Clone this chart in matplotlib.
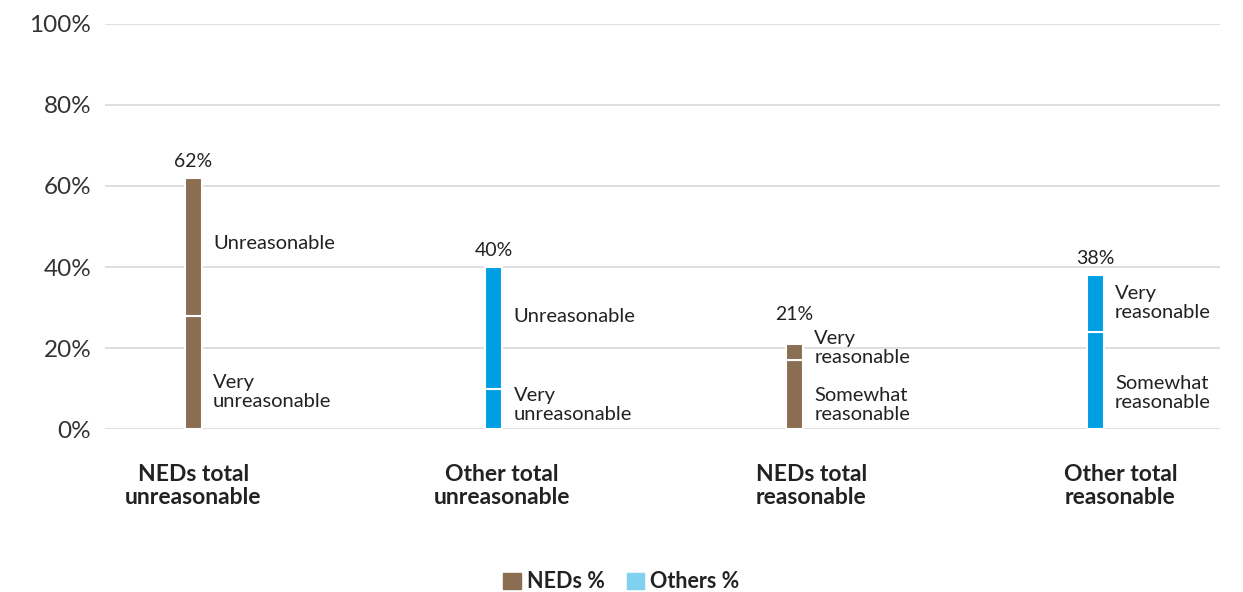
import matplotlib

matplotlib.use("Agg")
import matplotlib.pyplot as plt
from matplotlib.patches import Patch

plt.rcParams["font.family"] = ["Lato", "DejaVu Sans"]

# Stacked bars: lower segment + upper segment, in percent
categories = [
    "NEDs total\nunreasonable",
    "Other total\nunreasonable",
    "NEDs total\nreasonable",
    "Other total\nreasonable",
]
lower_values = [28, 10, 17, 24]
upper_values = [34, 30, 4, 14]
lower_labels = ["Very\nunreasonable", "Very\nunreasonable", "Somewhat\nreasonable", "Somewhat\nreasonable"]
upper_labels = ["Unreasonable", "Unreasonable", "Very\nreasonable", "Very\nreasonable"]
series = ["NEDs", "Others", "NEDs", "Others"]
y_ticks = [0, 20, 40, 60, 80, 100]

BROWN = "#8b6d52"
BLUE = "#009fe3"
LEGEND_BLUE = "#80d0f0"
GRID = "#d9d9d9"
TEXT = "#222222"

colors = {"NEDs": BROWN, "Others": BLUE}

fig = plt.figure(figsize=(12.43, 5.92), dpi=100)
ax = fig.add_axes([0.0845, 0.2753, 0.897, 0.6842])

x = list(range(len(categories)))
bar_w = 0.056
bar_colors = [colors[s] for s in series]
totals = [lo + up for lo, up in zip(lower_values, upper_values)]

ax.bar(x, lower_values, width=bar_w, color=bar_colors, edgecolor="white", linewidth=1.5, zorder=3)
ax.bar(x, upper_values, bottom=lower_values, width=bar_w, color=bar_colors,
       edgecolor="white", linewidth=1.5, zorder=3)

# label placement within each segment (fraction of segment height)
lower_pos = [0.325, 0.59, 0.35, 0.37]
upper_pos = [0.52, 0.59, 0.75, 0.51]
total_offset = [6, 6, 15, 6]
for i in x:
    lo, up = lower_values[i], upper_values[i]
    ax.text(i + 0.066, lo * lower_pos[i], lower_labels[i], ha="left", va="center",
            fontsize=14.5, color=TEXT, linespacing=1.1)
    ax.text(i + 0.066, lo + up * upper_pos[i], upper_labels[i],
            ha="left", va="center", fontsize=14.5, color=TEXT, linespacing=1.1)
    ax.annotate(f"{totals[i]}%", (i, totals[i]), xytext=(0, total_offset[i]),
                textcoords="offset points", ha="center", va="bottom", fontsize=14, color=TEXT)

ax.set_xlim(-0.293, 3.415)
ax.set_ylim(0, 100)
ax.set_yticks(y_ticks)
ax.set_yticklabels([f"{v}%" for v in y_ticks], fontsize=17.5, color="#333333")
ax.yaxis.grid(True, color=GRID, linewidth=1.2, zorder=0)
ax.tick_params(axis="y", length=0, pad=10)
ax.set_xticks([i * 1.028 for i in x])
ax.set_xticklabels(categories, fontsize=16.5, fontweight="bold", color=TEXT, linespacing=1.15)
ax.tick_params(axis="x", length=0, pad=25)
for spine in ax.spines.values():
    spine.set_visible(False)

handles = [Patch(color=BROWN, label="NEDs %"), Patch(color=LEGEND_BLUE, label="Others %")]
leg = fig.legend(handles=handles, loc="center", bbox_to_anchor=(0.5, 0.017), ncol=2,
                 frameon=False, handlelength=0.8, handleheight=0.8, handletextpad=0.3,
                 columnspacing=1.0, prop={"size": 15.5, "weight": "bold"})
for t in leg.get_texts():
    t.set_color(TEXT)

fig.savefig("out.png", dpi=100)
